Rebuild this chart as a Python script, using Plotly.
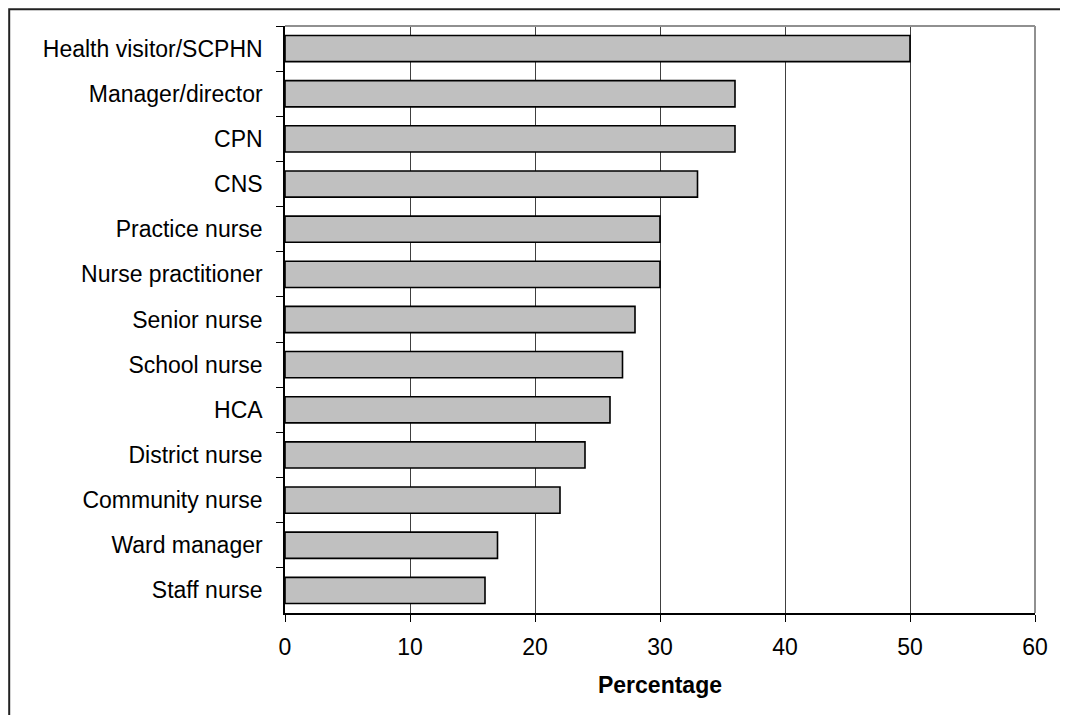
import plotly.graph_objects as go

categories = [
    "Health visitor/SCPHN", "Manager/director", "CPN", "CNS", "Practice nurse",
    "Nurse practitioner", "Senior nurse", "School nurse", "HCA", "District nurse",
    "Community nurse", "Ward manager", "Staff nurse",
]
percentages = [50, 36, 36, 33, 30, 30, 28, 27, 26, 24, 22, 17, 16]
x_ticks = [0, 10, 20, 30, 40, 50, 60]

# page body has an 8px margin; figure is sized to fit inside the window
W, H = 1052, 707
L, R, T, B = 277, 25, 18, 102
pw, ph = W - L - R, H - T - B

fig = go.Figure(go.Bar(
    x=percentages, y=categories, orientation="h",
    marker=dict(color="#C0C0C0", line=dict(color="#000000", width=1.6)),
))

font_family = "Liberation Sans, Arial, sans-serif"
fig.update_layout(
    width=W, height=H,
    margin=dict(l=L, r=R, t=T, b=B, pad=0),
    paper_bgcolor="white", plot_bgcolor="white",
    bargap=0.42, showlegend=False,
    font=dict(family=font_family, color="#000000"),
    xaxis=dict(
        range=[0, 60], tickvals=x_ticks, ticktext=[str(v) for v in x_ticks],
        showgrid=True, gridcolor="#404040", gridwidth=1,
        showline=True, linecolor="#000000", linewidth=1.5,
        ticks="outside", ticklen=7, tickcolor="#000000",
        tickfont=dict(size=23), ticklabelstandoff=6,
        zeroline=False,
        title=dict(text="<b>Percentage</b>", font=dict(size=23), standoff=18),
    ),
    yaxis=dict(
        autorange="reversed", showgrid=False,
        showline=True, linecolor="#000000", linewidth=1.5,
        ticks="outside", ticklen=7, tickcolor="#000000", tickson="boundaries",
        tickfont=dict(size=23), ticklabelstandoff=16,
    ),
    shapes=[
        dict(type="line", xref="paper", yref="paper", x0=0, x1=1, y0=1, y1=1,
             line=dict(color="#909090", width=2), layer="above"),
        dict(type="line", xref="paper", yref="paper", x0=1, x1=1, y0=0, y1=1,
             line=dict(color="#909090", width=2), layer="above"),
        dict(type="rect", xref="paper", yref="paper",
             x0=(1.2 - L) / pw, x1=(W + 20 - L) / pw,
             y0=-(H + 20 - T - ph) / ph, y1=(T + ph - 1.2) / ph,
             line=dict(color="#222222", width=2), layer="above"),
    ],
)

fig.write_html("out.html")
